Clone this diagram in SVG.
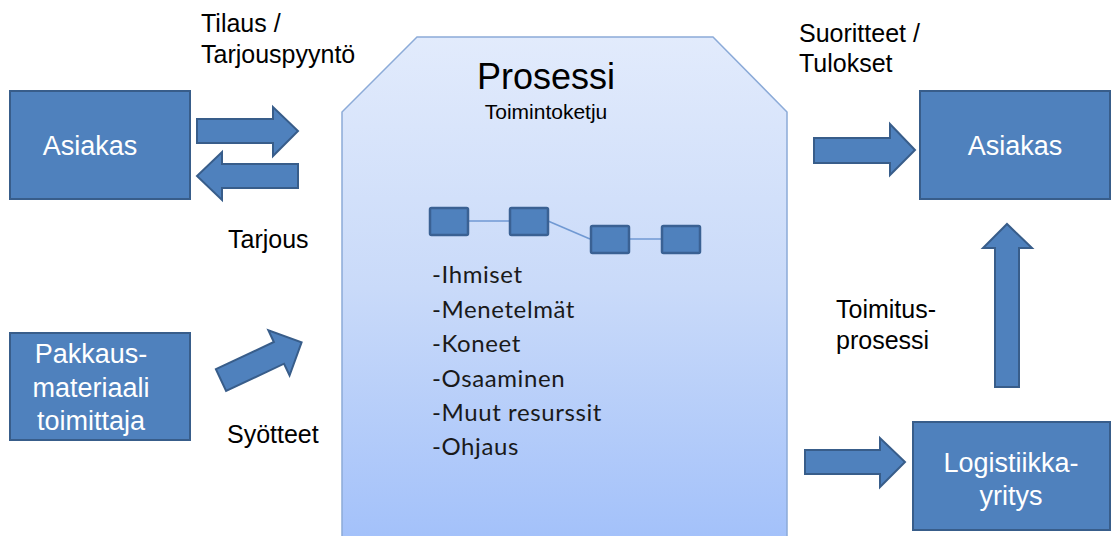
<svg xmlns="http://www.w3.org/2000/svg" width="1118" height="536" viewBox="0 0 1118 536">
  <defs>
    <linearGradient id="procFill" x1="0" y1="0" x2="0" y2="1">
      <stop offset="0" stop-color="#e2ebfc"/>
      <stop offset="0.5" stop-color="#c9daf9"/>
      <stop offset="1" stop-color="#a3c1fa"/>
    </linearGradient>
  </defs>
  <style>
    .box { fill: #4f81bd; stroke: #385d8a; stroke-width: 2; }
    .arrow { fill: #4f81bd; stroke: #385d8a; stroke-width: 2; stroke-linejoin: miter; }
    .step { fill: #4f81bd; stroke: #3a6193; stroke-width: 2.5; }
    .link { stroke: #7099d3; stroke-width: 1.6; fill: none; }
    .boxText { font-family: "Liberation Sans", Arial, sans-serif; font-size: 27px; fill: #ffffff; text-anchor: middle; }
    .label { font-family: "Liberation Sans", Arial, sans-serif; font-size: 25px; fill: #000000; }
    .list { font-family: Lato, "Open Sans", sans-serif; font-size: 24px; letter-spacing: 0.6px; fill: #1a1a1a; }
  </style>

  <rect width="1118" height="536" fill="#ffffff"/>

  <!-- central process shape -->
  <g id="prosessi">
    <path d="M342,540 V112 L417,37 H713 L787,112 V540" fill="url(#procFill)" stroke="#8cabd8" stroke-width="1.5"/>
    <text x="546" y="89" font-family="Liberation Sans, Arial, sans-serif" font-size="36" text-anchor="middle" fill="#000">Prosessi</text>
    <text x="546" y="119" font-family="Liberation Sans, Arial, sans-serif" font-size="21" text-anchor="middle" fill="#000">Toimintoketju</text>
    <g id="toimintoketju">
      <line class="link" x1="468" y1="221" x2="510" y2="221"/>
      <line class="link" x1="548" y1="221" x2="590" y2="239"/>
      <line class="link" x1="629" y1="239" x2="662" y2="239"/>
      <rect class="step" x="430" y="208" width="38" height="27" rx="1.5"/>
      <rect class="step" x="510" y="208" width="38" height="27" rx="1.5"/>
      <rect class="step" x="591" y="226" width="38" height="27" rx="1.5"/>
      <rect class="step" x="662" y="226" width="38" height="27" rx="1.5"/>
    </g>
    <g class="list">
      <text x="432" y="283">-Ihmiset</text>
      <text x="432" y="318">-Menetelmät</text>
      <text x="432" y="352">-Koneet</text>
      <text x="432" y="387">-Osaaminen</text>
      <text x="432" y="421">-Muut resurssit</text>
      <text x="432" y="455">-Ohjaus</text>
    </g>
  </g>

  <!-- nodes -->
  <g id="asiakas-vasen">
    <rect class="box" x="10" y="91" width="180" height="108"/>
    <text class="boxText" x="90" y="155">Asiakas</text>
  </g>
  <g id="pakkausmateriaali">
    <rect class="box" x="10" y="333" width="180" height="107"/>
    <text class="boxText" x="91" y="363">Pakkaus-</text>
    <text class="boxText" x="91" y="397">materiaali</text>
    <text class="boxText" x="91" y="430">toimittaja</text>
  </g>
  <g id="asiakas-oikea">
    <rect class="box" x="920" y="91" width="190" height="108"/>
    <text class="boxText" x="1015" y="155">Asiakas</text>
  </g>
  <g id="logistiikka">
    <rect class="box" x="913" y="422" width="197" height="108"/>
    <text class="boxText" x="1011" y="472">Logistiikka-</text>
    <text class="boxText" x="1011" y="505">yritys</text>
  </g>

  <!-- connectors: block arrows -->
  <g id="connectors">
    <!-- order in -->
    <path class="arrow" d="M197,119 H273 V107 L298,131 L273,156 V143 H197 Z"/>
    <!-- offer back -->
    <path class="arrow" d="M298,164 H222 V152 L197,176 L222,200 V188 H298 Z"/>
    <!-- inputs from supplier -->
    <path class="arrow" transform="translate(221,380) rotate(-25.1)" d="M0,-12 H64 V-25 L89,0 L64,25 V12 H0 Z"/>
    <!-- outputs to customer -->
    <path class="arrow" d="M814,138 H890 V124 L915,150 L890,175 V163 H814 Z"/>
    <!-- to logistics -->
    <path class="arrow" d="M805,450 H880 V438 L905,462 L880,487 V474 H805 Z"/>
    <!-- delivery process up to customer -->
    <path class="arrow" d="M995,387 V248 H983 L1007,224 L1032,248 H1019 V387 Z"/>
  </g>

  <!-- connector labels -->
  <g id="labels" class="label">
    <text x="201" y="32">Tilaus /</text>
    <text x="201" y="63">Tarjouspyyntö</text>
    <text x="228" y="248">Tarjous</text>
    <text x="227" y="443">Syötteet</text>
    <text x="799" y="42">Suoritteet /</text>
    <text x="799" y="72">Tulokset</text>
    <text x="836" y="318">Toimitus-</text>
    <text x="836" y="349">prosessi</text>
  </g>
</svg>
